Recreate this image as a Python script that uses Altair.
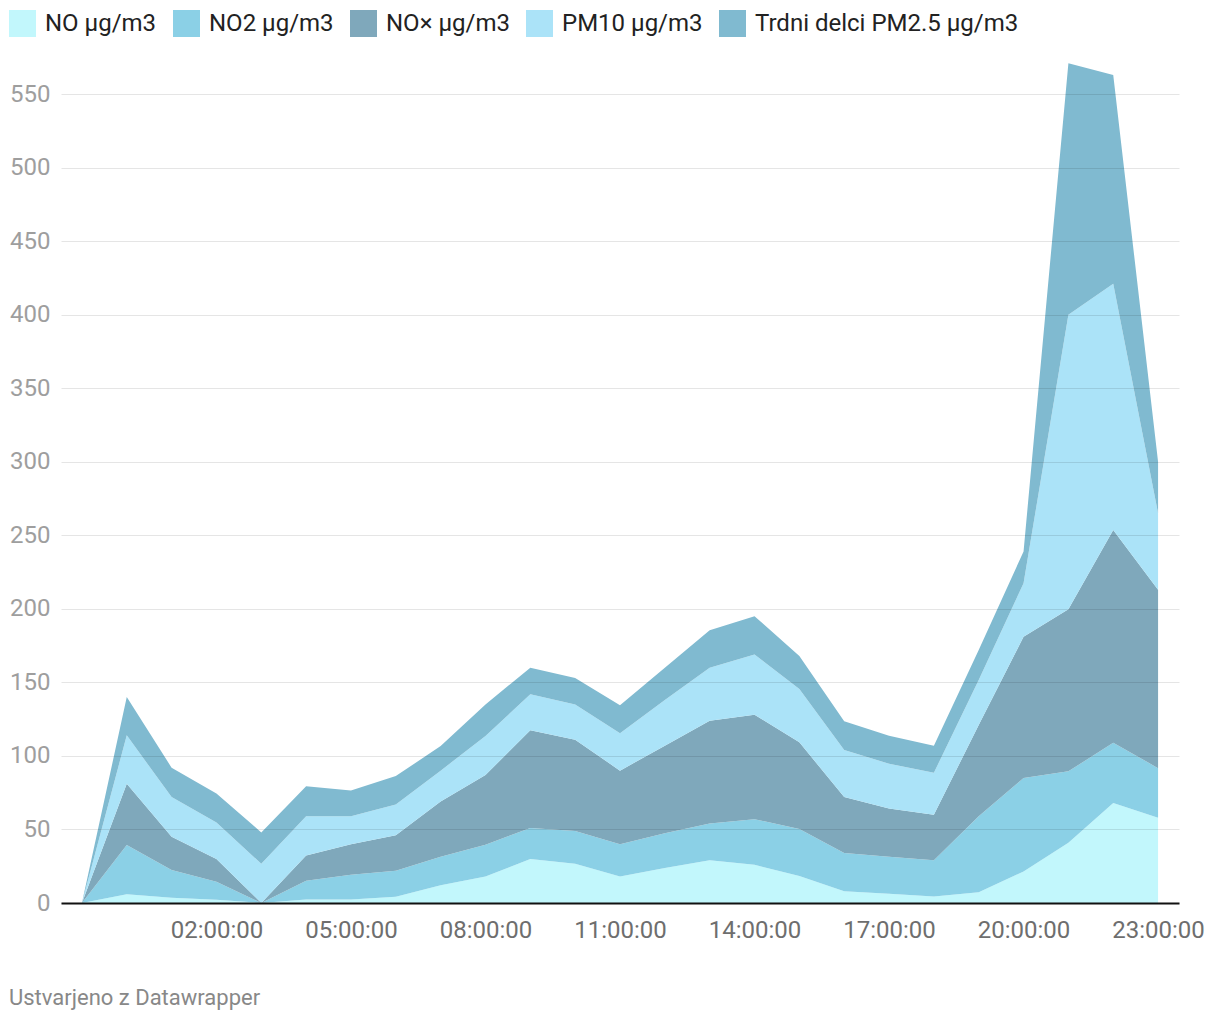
import altair as alt
import pandas as pd

# hourly timestamps (first point is 23:00 of the previous day)
times = [
    "2024-05-01T23:00:00Z", "2024-05-02T00:00:00Z", "2024-05-02T01:00:00Z",
    "2024-05-02T02:00:00Z", "2024-05-02T03:00:00Z", "2024-05-02T04:00:00Z",
    "2024-05-02T05:00:00Z", "2024-05-02T06:00:00Z", "2024-05-02T07:00:00Z",
    "2024-05-02T08:00:00Z", "2024-05-02T09:00:00Z", "2024-05-02T10:00:00Z",
    "2024-05-02T11:00:00Z", "2024-05-02T12:00:00Z", "2024-05-02T13:00:00Z",
    "2024-05-02T14:00:00Z", "2024-05-02T15:00:00Z", "2024-05-02T16:00:00Z",
    "2024-05-02T17:00:00Z", "2024-05-02T18:00:00Z", "2024-05-02T19:00:00Z",
    "2024-05-02T20:00:00Z", "2024-05-02T21:00:00Z", "2024-05-02T22:00:00Z",
    "2024-05-02T23:00:00Z",
]

no_vals = [0, 6, 3.6, 2.2, 0, 2.3, 2.3, 4.3, 12, 18, 30, 26.7, 18, 23.8, 29, 26,
           18.3, 8, 6.3, 4.5, 7.3, 21.5, 41, 68, 58]
no2_vals = [0, 33.5, 18.8, 12.3, 0, 12.9, 16.9, 17.7, 19.5, 21.6, 21, 22.3, 22, 23.7,
            25, 31, 32.1, 26, 25.2, 24.5, 51.7, 63.5, 48.5, 41, 33.7]
nox_vals = [0, 41.5, 22.6, 15.5, 0, 17.1, 20.8, 24, 37.5, 47.4, 66.5, 62, 50, 59.5,
            70, 71, 58.9, 38, 32.8, 31, 62, 96, 110.2, 144.6, 121.3]
pm10_vals = [0, 33, 27, 24.7, 26.7, 26.7, 19, 21, 21, 26.5, 24.5, 24, 25.5, 31, 36,
             41, 36.2, 32, 30.4, 28.5, 30.7, 36.4, 200.3, 167.4, 52]
pm25_vals = [0, 26, 20, 19.8, 21.3, 20.3, 17.5, 19.3, 16.7, 21.5, 18, 18, 19, 22,
             25.5, 26, 22.5, 19.6, 19, 18.5, 20.3, 21.6, 171, 142, 35]

series_names = ["NO µg/m3", "NO2 µg/m3", "NO× µg/m3", "PM10 µg/m3",
                "Trdni delci PM2.5 µg/m3"]
series_values = [no_vals, no2_vals, nox_vals, pm10_vals, pm25_vals]
series_colors = ["#c2f7fc", "#8bd0e6", "#7fa8bb", "#abe3f8", "#80bad0"]

y_ticks = [0, 50, 100, 150, 200, 250, 300, 350, 400, 450, 500, 550]
x_tick_hours = [2, 5, 8, 11, 14, 17, 20, 23]

rows = []
for idx, (name, vals) in enumerate(zip(series_names, series_values)):
    for t, v in zip(times, vals):
        rows.append({"time": t, "series": name, "value": v, "idx": idx})
df = pd.DataFrame(rows)

x_domain = [
    alt.DateTime(year=2024, month=5, date=1, hours=22, minutes=32, utc=True),
    alt.DateTime(year=2024, month=5, date=2, hours=23, minutes=28, utc=True),
]
x_values = [alt.DateTime(year=2024, month=5, date=2, hours=h, utc=True)
            for h in x_tick_hours]

chart = (
    alt.Chart(df)
    .mark_area(opacity=1, interpolate="linear")
    .encode(
        x=alt.X(
            "time:T",
            scale=alt.Scale(type="utc", domain=x_domain),
            axis=alt.Axis(
                values=x_values,
                format="%H:%M:%S",
                title=None,
                grid=False,
                ticks=False,
                tickSize=0,
                domain=True,
                domainColor="#111111",
                domainWidth=2,
                labelFont="Roboto",
                labelFontSize=24,
                labelColor="#6e6e6e",
                labelPadding=15,
                labelAlign="center",
                labelBaseline="top",
                zindex=1,
            ),
        ),
        y=alt.Y(
            "value:Q",
            stack="zero",
            scale=alt.Scale(domain=[0, 580], nice=False),
            axis=alt.Axis(
                values=y_ticks,
                title=None,
                grid=True,
                gridColor="#000000",
                gridOpacity=0.1,
                gridWidth=1,
                ticks=False,
                tickSize=0,
                domain=False,
                labelFont="Roboto",
                labelFontSize=24,
                labelColor="#9e9e9e",
                labelPadding=11,
                labelBaseline="middle",
                zindex=1,
            ),
        ),
        color=alt.Color(
            "series:N",
            sort=series_names,
            scale=alt.Scale(domain=series_names, range=series_colors),
            legend=alt.Legend(
                title=None,
                orient="none",
                direction="horizontal",
                legendX=-52,
                legendY=-40,
                padding=0,
                symbolType="square",
                symbolSize=729,
                symbolStrokeWidth=0,
                symbolOpacity=1,
                labelFont="Roboto",
                labelFontSize=24,
                labelColor="#222222",
                labelOffset=9,
                labelLimit=500,
                columnPadding=16,
            ),
        ),
        order=alt.Order("idx:Q", sort="ascending"),
    )
    .properties(
        width=1118,
        height=853,
        padding={"left": 1, "top": 2, "right": 5, "bottom": 5},
        title=alt.TitleParams(
            "Ustvarjeno z Datawrapper",
            orient="bottom",
            anchor="start",
            frame="bounds",
            font="Roboto",
            fontSize=22,
            fontWeight="normal",
            color="#888888",
            baseline="top",
            offset=46,
            dx=0,
        ),
    )
    .configure_view(stroke=None)
)

chart.save("out.html", embed_options={"renderer": "svg", "actions": False})
